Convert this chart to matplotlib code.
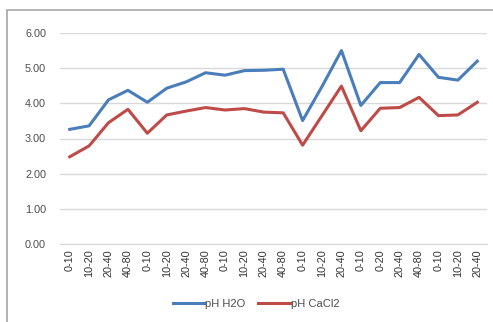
import matplotlib
matplotlib.use("Agg")
import matplotlib.pyplot as plt
from matplotlib.patches import Rectangle

categories = ["0-10", "10-20", "20-40", "40-80", "0-10", "10-20", "20-40", "40-80",
              "0-10", "10-20", "20-40", "40-80", "0-10", "10-20", "20-40",
              "0-10", "0-20", "20-40", "40-80", "0-10", "10-20", "20-40"]
ph_h2o = [3.26, 3.36, 4.10, 4.37, 4.03, 4.43, 4.61, 4.87, 4.80, 4.93, 4.94, 4.97,
          3.51, 4.48, 5.50, 3.94, 4.59, 4.59, 5.39, 4.74, 4.66, 5.20]
ph_cacl2 = [2.48, 2.79, 3.45, 3.83, 3.15, 3.67, 3.78, 3.88, 3.81, 3.85, 3.75, 3.73,
            2.81, 3.65, 4.49, 3.22, 3.86, 3.88, 4.17, 3.65, 3.67, 4.03]
yticks = [0, 1, 2, 3, 4, 5, 6]

plt.rcParams['font.family'] = ['Liberation Sans', 'DejaVu Sans']

fig = plt.figure(figsize=(4.93, 3.22), dpi=100)
fig.patch.set_facecolor('white')
fig.patches.append(Rectangle((7/493, -10/322), 500/493, 322/322, transform=fig.transFigure,
                             fill=False, edgecolor='#A6A6A6', linewidth=1.2))

ax = fig.add_axes([60/493, 1-244/322, 427/493, 211/322])
x = list(range(len(categories)))
ax.plot(x, ph_h2o, color='#4A7EBB', linewidth=2.2, label='pH H2O')
ax.plot(x, ph_cacl2, color='#BE4B48', linewidth=2.2, label='pH CaCl2')

ax.set_xlim(-0.5, len(categories) - 0.5)
ax.set_ylim(0, 6)
ax.set_yticks(yticks)
ax.set_yticklabels([f"{v:.2f}" for v in yticks], fontsize=7.8, color='#4D4D4D')
ax.set_xticks(x)
ax.set_xticklabels(categories, rotation=90, fontsize=7.8, color='#333333')
ax.yaxis.grid(True, color='#D9D9D9', linewidth=1.0)
ax.set_axisbelow(True)
for s in ['top', 'right', 'left']:
    ax.spines[s].set_visible(False)
ax.spines['bottom'].set_color('#D9D9D9')
ax.tick_params(axis='both', length=0)
ax.tick_params(axis='y', pad=10)
ax.tick_params(axis='x', pad=4)

fig.legend(loc='center', bbox_to_anchor=(256/493, 1-304/322), ncol=2, frameon=False,
           fontsize=8, handlelength=2.8, handletextpad=0.1, columnspacing=1.2,
           labelcolor='#4D4D4D')

fig.savefig('out.png', dpi=100)
